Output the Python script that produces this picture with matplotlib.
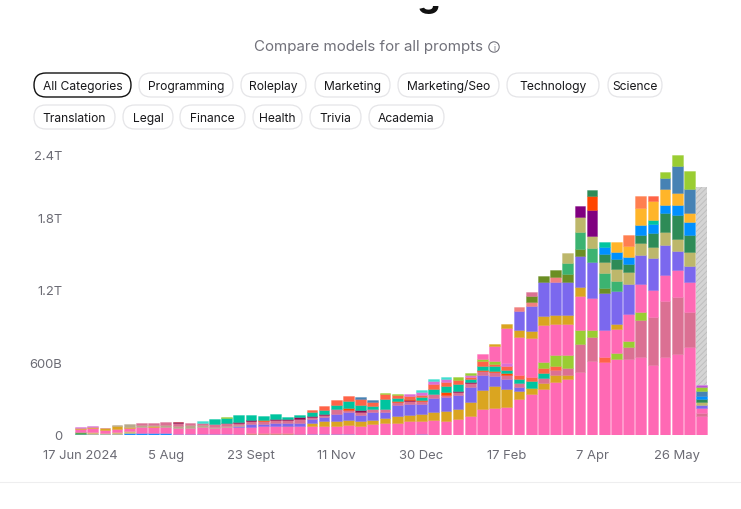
import numpy as np
import matplotlib
matplotlib.use("Agg")
import matplotlib.pyplot as plt
from matplotlib.colors import to_rgba
from matplotlib.patches import FancyBboxPatch, Circle, Rectangle
from matplotlib.ticker import FixedLocator

plt.rcParams['font.family'] = ['Inter', 'DejaVu Sans']
plt.rcParams['hatch.linewidth'] = 0.6

N = 52
title = "Rankings"
subtitle = "Compare models for all prompts"
row1 = ["All Categories", "Programming", "Roleplay", "Marketing", "Marketing/Seo", "Technology", "Science"]
row2 = ["Translation", "Legal", "Finance", "Health", "Trivia", "Academia"]
x_tick_pos = [0, 7, 14, 21, 28, 35, 42, 49]
x_tick_labels = ["17 Jun 2024", "5 Aug", "23 Sept", "11 Nov", "30 Dec", "17 Feb", "7 Apr", "26 May"]
y_tick_vals = [0, 600, 1200, 1800, 2400]
y_tick_labels = ["0", "600B", "1.2T", "1.8T", "2.4T"]

# weekly tokens, in billions, bottom of the stack first
blue_low = [8,8,8,8,17,17,17,17,8,8,12,8,8,8,8,8,8,8,8,8,8,8,8,0,4,4,4,4,8]
coral_low = [0]*13 + [4,8,8,8,8,4]
tan_low = [0,17,12,17,12]
green_low = [17]
pink1 = [25,29,25,25,29,50,50,50,50,54,58,54,62,54,54,58,58,58,64,64,69,69,77,77,85,94,99,108,105,124,118,130,155,213,221,234,296,342,383,439,461,519,615,607,632,629,648,580,648,671,729,155]
gold1 = [8,12,12,21,8,0,6,0,0,0,0,0,0,0,0,0,0,4,0,25,41,39,39,39,39,41,55,55,58,64,80,89,118,160,182,143,72,47,50,58,39]
purple1 = [0]*13 + [12,17,21,22,25,27,39,33,60,64,52,60,52,89,91,85,122,118,108,127,127,89,85,33]
khaki_mid = [0,0,0,12,21,17,12,17,17,17,12,8,8,8]
mauve1 = [0,0,0,0,0,17,15,21,21,21,21,25,21,17,33,25,29,25,33,17,17,39,22,25,31,27,27,25,25,31,19,27,31,31,27,36,27,0,41,39,55,234,199,0,0,99,306,400,461,472,290,25]
dark_thin = [0,0,0,0,0,0,0,0,8,0,0,0,4,8,4,0,11,8,12,8,8,0,0,11,0,0,0,8,0,0,0,14,11]
red_thin = [0]*15 + [8,0,0,0,0,0,0,14,0,0,0,11,3,8,0,17,0,0,8,14,11]
teal1 = [0]*11 + [37,41,54,41,29,37,15,21,31,27,33,60,47,22,83,22,8,22,41,50,50,19,31,36,33,39,55,41]
tomato1 = [0,0,0,0,0,0,0,0,4,0,0,0,0,0,0,0,0,0,0,17,33,39,36,47,36,41,22,17,17,36,39,41,17,39,22,31,27,39,36,39,0,0,0,41]
lilac = [8,8,4] + [0]*24 + [19,25,25,19,0,17,0,0,22]
light_teal = [0]*10 + [12] + [0]*17 + [19,22,22]
yg1 = [0]*12 + [4] + [0]*12 + [6,11,0,0,0,0,25,17,17,19,0,0,0,52,83,108,113,55,0,47,52,60]
pink2 = [0]*33 + [47,124,290,320,323,309,259,254,287,265,221,199,221,232,224,215,224,248,46]
gold2 = [0]*34 + [19,33,52,58,75,80,72,69,0,0,41]
purple2 = [0]*36 + [163,205,276,267,276,257,298,304,276,248,240,262,251,152,135,25]
light_coral = [0]*36 + [27,31,0,41]
olive = [0]*37 + [47,55,64,64,64,0,44]
mauve2 = [0]*37 + [36]
med_green = [0]*40 + [91,141,116,127,83]
khaki = [0]*40 + [83,124,99,89,97,99,99,89,105,105,113,25]
dark_purple = [0]*41 + [89,213]
orange_red = [0]*42 + [118]
sea_green = [0]*42 + [50,69,83,66,72,116,157,193,143,25]
dodger = [0]*43 + [55,58,58,80,75,69,83,105,22]
teal2 = [0]*43 + [44,0,0,0,36]
amber = [0]*44 + [85,94,141,155,130,105,75]
steel = [0]*23 + [17,14] + [0]*23 + [91,218,199,39]
coral = [0]*45 + [91,99]
tomato2 = [0]*47 + [41]
yg2 = [0]*48 + [50,97,149,33]
orchid = [0]*51 + [19]
projected = [0]*51 + [1640]

stack = [
    (blue_low, '#1E90FF'), (green_low, '#5FA84F'), (coral_low, '#FF7F50'), (tan_low, '#D9B878'),
    (pink1, '#FF69B4'), (gold1, '#DAA520'), (purple1, '#7B68EE'), (khaki_mid, '#B8A88C'),
    (mauve1, '#DB7093'), (dark_thin, '#8B0A50'), (red_thin, '#FF4500'), (teal1, '#00C49F'),
    (tomato1, '#FF6347'), (lilac, '#DA70D6'), (light_teal, '#40E0D0'), (yg1, '#9ACD32'),
    (pink2, '#FF69B4'), (gold2, '#DAA520'), (purple2, '#7B68EE'), (light_coral, '#F08080'),
    (olive, '#6B8E23'), (mauve2, '#DB7093'), (med_green, '#3CB371'), (khaki, '#BDB76B'),
    (dark_purple, '#800080'), (orange_red, '#FF4500'), (sea_green, '#2E8B57'), (dodger, '#0090FF'),
    (teal2, '#00C49F'), (amber, '#FFB52A'), (steel, '#4682B4'), (coral, '#FF7F50'),
    (tomato2, '#FF6347'), (yg2, '#9ACD32'), (orchid, '#BA55D3'),
]

W, H = 741, 510
fig = plt.figure(figsize=(W / 100, H / 100), dpi=100, facecolor='white')

# plot axes: pixel box 70..712 x 146..436
ax = fig.add_axes([70 / W, 1 - 436 / H, 642 / W, 290 / H])
step = 12.18
ax.set_xlim((70 - 80.5) / step, (712 - 80.5) / step)
ax.set_ylim(0, 2400)

x = np.arange(N)
bottom = np.zeros(N)
for values, color in stack:
    v = np.array(values + [0] * (N - len(values)), dtype=float)
    m = v > 0
    ax.bar(x[m], v[m], bottom=bottom[m], width=0.88, color=color,
           edgecolor=to_rgba(color, 0.4), linewidth=0.6)
    bottom += v

p = np.array(projected, dtype=float)
m = p > 0
ax.bar(x[m], p[m], bottom=bottom[m], width=0.88, facecolor='#d4d4d4',
       edgecolor='#bcbcbc', hatch='//////', linewidth=0)

for s in ax.spines.values():
    s.set_visible(False)
ax.xaxis.set_major_locator(FixedLocator(x_tick_pos))
ax.set_xticklabels(x_tick_labels)
ax.yaxis.set_major_locator(FixedLocator(y_tick_vals))
ax.set_yticklabels(y_tick_labels)
ax.tick_params(axis='both', length=0, labelsize=9.4, labelcolor='#6b6b74')
ax.tick_params(axis='x', pad=10)
ax.tick_params(axis='y', pad=5.5)
ax.patch.set_alpha(0)
# the top label sits lower than its tick in the reference
top_lab = ax.get_yticklabels()[-1]
top_lab.set_transform(top_lab.get_transform() + matplotlib.transforms.ScaledTranslation(0, -9 / 100, fig.dpi_scale_trans))

# page furniture in pixel coordinates
ov = fig.add_axes([0, 0, 1, 1], zorder=-1)
ov.set_xlim(0, W)
ov.set_ylim(H, 0)
ov.axis('off')

# the heading is scrolled almost out of view: only its descender shows
ov.text(377, 6, title, ha='center', va='baseline', fontsize=27, fontweight='bold', color='#111111', zorder=1)
ov.add_patch(Rectangle((0, 0), W, 7, facecolor='white', edgecolor='none', zorder=2))

ov.text(368, 47, subtitle, ha='center', va='center', fontsize=10.9, color='#71717a')
ov.add_patch(Circle((494, 48), 5.2, fill=False, edgecolor='#71717a', linewidth=0.8))
ov.text(494, 48.3, 'i', ha='center', va='center', fontsize=6, color='#71717a')


def capsule(x0, x1, y0, y1, label, active=False):
    h = y1 - y0
    ov.add_patch(FancyBboxPatch((x0, y0), x1 - x0, h,
                                boxstyle=f"round,pad=0,rounding_size={h / 2}",
                                facecolor='white',
                                edgecolor='#111111' if active else '#e5e5e8',
                                linewidth=1.0 if active else 0.9))
    ov.text((x0 + x1) / 2, (y0 + y1) / 2 + 0.6, label, ha='center', va='center',
            fontsize=8.7, color='#18181b')


row1_x = [(34, 131), (139, 233), (241, 306), (315, 390), (398, 499), (507, 599), (608, 662)]
row2_x = [(34, 115), (123, 173), (180, 245), (253, 302), (310, 361), (369, 444)]
for (a, b), lab in zip(row1_x, row1):
    capsule(a, b, 74, 98, lab, active=lab == "All Categories")
for (a, b), lab in zip(row2_x, row2):
    capsule(a, b, 106, 130, lab)

ov.plot([0, W], [482.5, 482.5], color='#eeeeef', linewidth=0.8)

fig.savefig('out.png', dpi=100, facecolor='white')
